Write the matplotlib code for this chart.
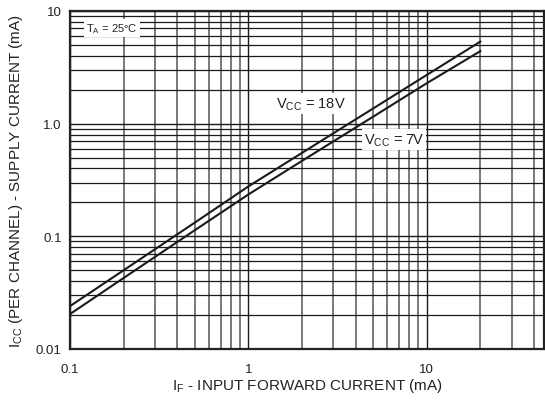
import matplotlib
matplotlib.use("Agg")
import matplotlib.pyplot as plt
from matplotlib.ticker import FixedLocator, NullFormatter

plt.rcParams['font.family'] = ['Liberation Sans', 'DejaVu Sans']

# input forward current (mA)
if_ma = [0.1, 0.2, 0.5, 1, 2, 5, 10, 20]
# supply current per channel (mA)
icc_18v = [0.024, 0.050, 0.132, 0.277, 0.55, 1.36, 2.70, 5.35]
icc_7v = [0.0204, 0.0427, 0.113, 0.235, 0.467, 1.15, 2.28, 4.4]

x_ticks = [0.1, 1, 10]
x_tick_labels = ['0.1', '1', '10']
y_ticks = [0.01, 0.1, 1, 10]
y_tick_labels = ['0.01', '0.1', '1.0', '10']

fig = plt.figure(figsize=(5.45, 4.02), dpi=100)
ax = fig.add_axes([0.1284, 0.1294, 0.8697, 0.8408])
ax.set_xscale('log')
ax.set_yscale('log')
ax.set_xlim(0.1, 45.5)
ax.set_ylim(0.01, 10)

# grid lines (minor in every decade)
x_minor = [m * 10.0 ** e for e in (-1, 0, 1) for m in range(2, 10)]
y_minor = [m * 10.0 ** e for e in (-2, -1, 0) for m in range(2, 10)]
ax.xaxis.set_minor_locator(FixedLocator(x_minor))
ax.yaxis.set_minor_locator(FixedLocator(y_minor))
ax.xaxis.set_minor_formatter(NullFormatter())
ax.yaxis.set_minor_formatter(NullFormatter())
ax.grid(True, which='major', color='#1a1a1a', linewidth=1.0)
ax.grid(True, which='minor', axis='y', color='#1a1a1a', linewidth=0.9)
ax.grid(True, which='minor', axis='x', color='#555555', linewidth=1.1)

ax.plot(if_ma, icc_18v, color='#1a1a1a', linewidth=1.5, zorder=3)
ax.plot(if_ma, icc_7v, color='#1a1a1a', linewidth=1.5, zorder=3)

ax.set_xticks(x_ticks)
ax.set_xticklabels(x_tick_labels)
ax.set_yticks(y_ticks)
ax.set_yticklabels(y_tick_labels)
ax.tick_params(which='both', length=0, labelsize=9.5, colors='#222222', pad=6)
ax.tick_params(axis='x', pad=10)

for s in ax.spines.values():
    s.set_linewidth(1.6)
    s.set_color('#222222')

box = dict(facecolor='white', edgecolor='none', pad=1.5)
ax.text(0.172, 7.07, r'T$_{\mathregular{A}}$ = 25°C', fontsize=8, color='#222222',
        ha='center', va='center', bbox=box, zorder=4)
ax.text(2.23, 1.50, r'V$_{\mathregular{CC}}$ = 18V', fontsize=10.5, color='#222222',
        ha='center', va='center', bbox=box, zorder=4)
ax.text(6.6, 0.72, r'V$_{\mathregular{CC}}$ = 7V', fontsize=10.5, color='#222222',
        ha='center', va='center', bbox=box, zorder=4)

ax.set_xlabel(r'I$_{\mathregular{F}}$ - INPUT FORWARD CURRENT (mA)', fontsize=11,
              color='#222222', labelpad=1)
ax.set_ylabel(r'I$_{\mathregular{CC}}$ (PER CHANNEL) - SUPPLY CURRENT (mA)', fontsize=11,
              color='#222222', labelpad=8)

fig.savefig('out.png', dpi=100)
